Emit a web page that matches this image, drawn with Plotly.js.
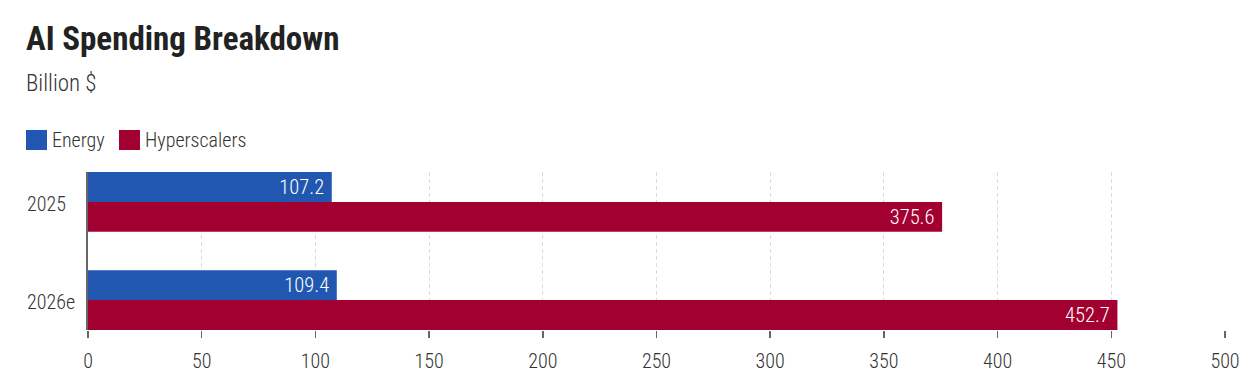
<!DOCTYPE html>
<html>
<head>
<meta charset="utf-8">
<script src="https://cdn.plot.ly/plotly-3.0.1.min.js"></script>
<style>
html,body{margin:0;padding:0;background:#fff;}
#chart{width:1248px;height:373px;}
</style>
</head>
<body>
<div id="chart"></div>
<script>
const categories = ["2025", "2026e"];
const seriesNames = ["Energy", "Hyperscalers"];
const energy = [107.2, 109.4];
const hyperscalers = [375.6, 452.7];
const xTicks = [0, 50, 100, 150, 200, 250, 300, 350, 400, 450, 500];

const FONT = "'Roboto Condensed', 'Liberation Sans Narrow', 'DejaVu Sans Condensed', sans-serif";
const colors = ["#2157B0", "#A30032"];

const W = 1248, H = 373;
const L = 88, R = 1225, T = 172, B = 330;
const px2x = p => (p - L) / (R - L);
const px2y = p => (B - p) / (B - T);

const traces = [energy, hyperscalers].map((vals, i) => ({
  type: "bar",
  orientation: "h",
  name: seriesNames[i],
  y: categories,
  x: vals,
  marker: {color: colors[i]},
  texttemplate: "%{x:.1f}\u00a0",
  textposition: "inside",
  insidetextanchor: "end",
  textfont: {family: FONT, size: 24, weight: 300, color: "#ffffff"},
  hoverinfo: "x+name"
}));

const annotations = [
  {text: "<b>AI Spending Breakdown</b>", xref: "paper", yref: "paper", x: px2x(24), y: px2y(38), xanchor: "left", yanchor: "middle", showarrow: false, font: {family: FONT, size: 33, color: "#222"}},
  {text: "Billion $", xref: "paper", yref: "paper", x: px2x(24), y: px2y(83), xanchor: "left", yanchor: "middle", showarrow: false, font: {family: FONT, size: 23, weight: 300, color: "#333"}}
];
const shapes = [];
// legend
let lx = 26;
seriesNames.forEach((n, i) => {
  shapes.push({type: "rect", xref: "paper", yref: "paper", x0: px2x(lx), x1: px2x(lx + 21), y0: px2y(150), y1: px2y(130), fillcolor: colors[i], line: {width: 0}});
  annotations.push({text: n, xref: "paper", yref: "paper", x: px2x(lx + 24), y: px2y(140), xanchor: "left", yanchor: "middle", showarrow: false, font: {family: FONT, size: 20, weight: 300, color: "#333"}});
  lx = 119;
});
// category labels, left aligned (positioned by category index on the y axis)
categories.forEach((c, i) => {
  annotations.push({text: c, xref: "paper", yref: "y", x: px2x(25), y: i, yshift: -2, xanchor: "left", yanchor: "middle", showarrow: false, font: {family: FONT, size: 20, weight: 300, color: "#333"}});
});

const layout = {
  width: W, height: H,
  margin: {l: L, r: W - R, t: T, b: H - B, pad: 0},
  paper_bgcolor: "#fff", plot_bgcolor: "#fff",
  barmode: "group",
  bargap: 0.39,
  bargroupgap: 0,
  showlegend: false,
  xaxis: {
    range: [0, 500],
    tickvals: xTicks,
    ticktext: xTicks.map(String),
    showgrid: true, gridcolor: "#dadada", griddash: "4px,3px", gridwidth: 1,
    zeroline: false, showline: false,
    ticks: "outside", ticklen: 7, tickwidth: 1.5, tickcolor: "#666",
    ticklabelstandoff: 6,
    tickfont: {family: FONT, size: 20, weight: 300, color: "#333"},
    fixedrange: true
  },
  yaxis: {
    type: "category",
    range: [1.305, -0.305],
    showticklabels: false,
    showgrid: false, zeroline: false,
    showline: true, linecolor: "#666", linewidth: 2,
    ticks: "",
    fixedrange: true
  },
  annotations: annotations,
  shapes: shapes,
  font: {family: FONT, color: "#333"}
};

Plotly.newPlot("chart", traces, layout, {displayModeBar: false, staticPlot: true});
</script>
</body>
</html>
